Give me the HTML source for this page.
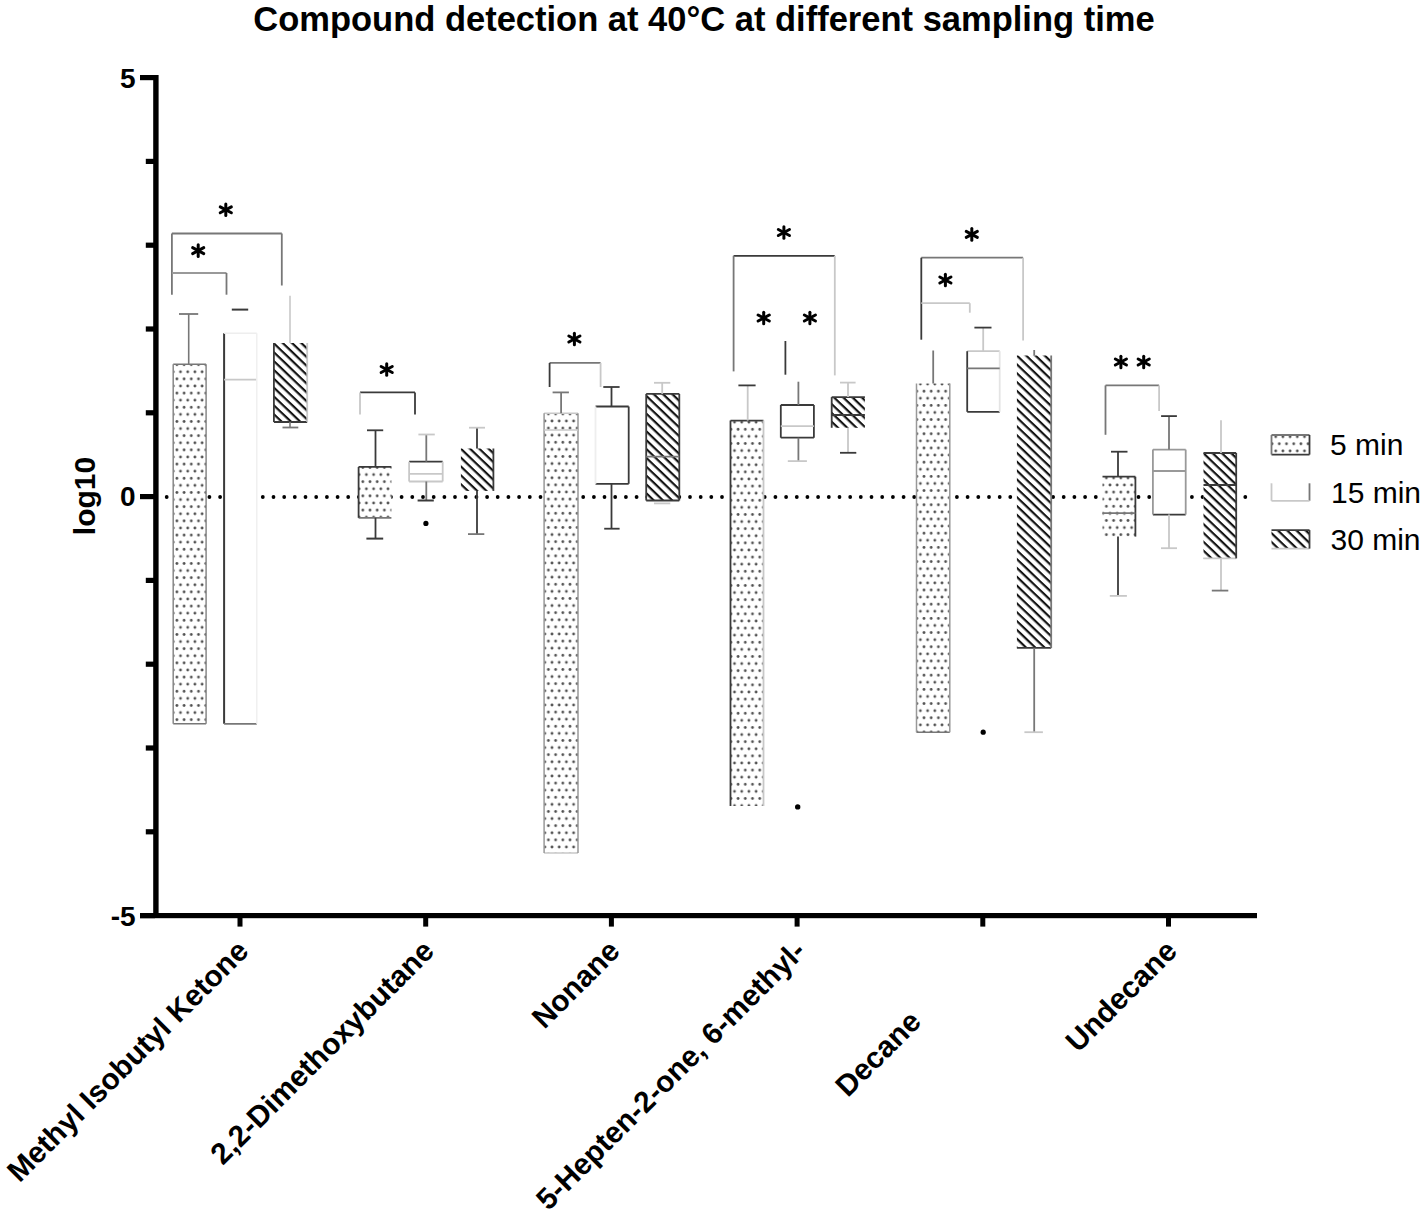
<!DOCTYPE html><html><head><meta charset="utf-8"><style>
html,body{margin:0;padding:0;background:#fff;}
svg{display:block;}
text{font-family:"Liberation Sans",sans-serif;}
</style></head><body>
<svg width="1425" height="1215" viewBox="0 0 1425 1215">
<defs><pattern id="h_mik" patternUnits="userSpaceOnUse" width="6.4" height="6.4" patternTransform="translate(0,0.48) rotate(43.7)"><rect x="-1" y="0" width="8.4" height="2.2" fill="#141414"/></pattern><pattern id="h_dmb" patternUnits="userSpaceOnUse" width="6.4" height="6.4" patternTransform="translate(0,6.85) rotate(43.7)"><rect x="-1" y="0" width="8.4" height="2.2" fill="#141414"/></pattern><pattern id="h_non" patternUnits="userSpaceOnUse" width="6.4" height="6.4" patternTransform="translate(0,6.92) rotate(43.7)"><rect x="-1" y="0" width="8.4" height="2.2" fill="#141414"/></pattern><pattern id="h_hep" patternUnits="userSpaceOnUse" width="6.4" height="6.4" patternTransform="translate(0,6.15) rotate(43.7)"><rect x="-1" y="0" width="8.4" height="2.2" fill="#141414"/></pattern><pattern id="h_dec" patternUnits="userSpaceOnUse" width="6.4" height="6.4" patternTransform="translate(0,1.94) rotate(43.7)"><rect x="-1" y="0" width="8.4" height="2.2" fill="#141414"/></pattern><pattern id="h_und" patternUnits="userSpaceOnUse" width="6.4" height="6.4" patternTransform="translate(0,1.04) rotate(43.7)"><rect x="-1" y="0" width="8.4" height="2.2" fill="#141414"/></pattern><pattern id="h_leg" patternUnits="userSpaceOnUse" width="6.4" height="6.4" patternTransform="translate(0,7.10) rotate(43.7)"><rect x="-1" y="0" width="8.4" height="2.2" fill="#141414"/></pattern><pattern id="d_mik" patternUnits="userSpaceOnUse" width="7.2" height="14.2" x="180.5" y="371.8"><circle cx="0" cy="0" r="1.4" fill="#505050"/><circle cx="7.2" cy="0" r="1.4" fill="#505050"/><circle cx="0" cy="14.2" r="1.4" fill="#505050"/><circle cx="7.2" cy="14.2" r="1.4" fill="#505050"/><circle cx="3.6" cy="7.1" r="1.4" fill="#505050"/></pattern><pattern id="d_dmb" patternUnits="userSpaceOnUse" width="7.2" height="14.2" x="366.4" y="474.6"><circle cx="0" cy="0" r="1.4" fill="#505050"/><circle cx="7.2" cy="0" r="1.4" fill="#505050"/><circle cx="0" cy="14.2" r="1.4" fill="#505050"/><circle cx="7.2" cy="14.2" r="1.4" fill="#505050"/><circle cx="3.6" cy="7.1" r="1.4" fill="#505050"/></pattern><pattern id="d_non" patternUnits="userSpaceOnUse" width="7.2" height="14.2" x="544.8" y="563.0"><circle cx="0" cy="0" r="1.4" fill="#505050"/><circle cx="7.2" cy="0" r="1.4" fill="#505050"/><circle cx="0" cy="14.2" r="1.4" fill="#505050"/><circle cx="7.2" cy="14.2" r="1.4" fill="#505050"/><circle cx="3.6" cy="7.1" r="1.4" fill="#505050"/></pattern><pattern id="d_hep" patternUnits="userSpaceOnUse" width="7.2" height="14.2" x="734.5" y="706.2"><circle cx="0" cy="0" r="1.4" fill="#505050"/><circle cx="7.2" cy="0" r="1.4" fill="#505050"/><circle cx="0" cy="14.2" r="1.4" fill="#505050"/><circle cx="7.2" cy="14.2" r="1.4" fill="#505050"/><circle cx="3.6" cy="7.1" r="1.4" fill="#505050"/></pattern><pattern id="d_dec" patternUnits="userSpaceOnUse" width="7.2" height="14.2" x="920.4" y="625.5"><circle cx="0" cy="0" r="1.4" fill="#505050"/><circle cx="7.2" cy="0" r="1.4" fill="#505050"/><circle cx="0" cy="14.2" r="1.4" fill="#505050"/><circle cx="7.2" cy="14.2" r="1.4" fill="#505050"/><circle cx="3.6" cy="7.1" r="1.4" fill="#505050"/></pattern><pattern id="d_und" patternUnits="userSpaceOnUse" width="7.2" height="14.2" x="1102.8" y="485.0"><circle cx="0" cy="0" r="1.4" fill="#505050"/><circle cx="7.2" cy="0" r="1.4" fill="#505050"/><circle cx="0" cy="14.2" r="1.4" fill="#505050"/><circle cx="7.2" cy="14.2" r="1.4" fill="#505050"/><circle cx="3.6" cy="7.1" r="1.4" fill="#505050"/></pattern><pattern id="d_leg" patternUnits="userSpaceOnUse" width="7.2" height="14.2" x="1275.7" y="436.7"><circle cx="0" cy="0" r="1.4" fill="#505050"/><circle cx="7.2" cy="0" r="1.4" fill="#505050"/><circle cx="0" cy="14.2" r="1.4" fill="#505050"/><circle cx="7.2" cy="14.2" r="1.4" fill="#505050"/><circle cx="3.6" cy="7.1" r="1.4" fill="#505050"/></pattern></defs>
<rect width="1425" height="1215" fill="#fff"/>

<text x="253.3" y="31" font-size="34.5" font-weight="bold" fill="#000">Compound detection at 40°C at different sampling time</text>
<rect x="153.2" y="75" width="5.4" height="843" fill="#000"/>
<rect x="140" y="913.0" width="15" height="5.2" fill="#000"/>
<rect x="145.8" y="829.2" width="9" height="5.2" fill="#000"/>
<rect x="145.8" y="745.4" width="9" height="5.2" fill="#000"/>
<rect x="145.8" y="661.6" width="9" height="5.2" fill="#000"/>
<rect x="145.8" y="577.8" width="9" height="5.2" fill="#000"/>
<rect x="140" y="494.0" width="15" height="5.2" fill="#000"/>
<rect x="145.8" y="410.2" width="9" height="5.2" fill="#000"/>
<rect x="145.8" y="326.4" width="9" height="5.2" fill="#000"/>
<rect x="145.8" y="242.6" width="9" height="5.2" fill="#000"/>
<rect x="145.8" y="158.8" width="9" height="5.2" fill="#000"/>
<rect x="140" y="75.0" width="15" height="5.2" fill="#000"/>
<text x="135.6" y="87.5" font-size="28" font-weight="bold" text-anchor="end">5</text>
<text x="135.6" y="505.5" font-size="28" font-weight="bold" text-anchor="end">0</text>
<text x="135.6" y="925.5" font-size="28" font-weight="bold" text-anchor="end">-5</text>
<text x="0" y="0" font-size="30" font-weight="bold" text-anchor="middle" transform="translate(95,496) rotate(-90)">log10</text>
<rect x="140" y="913" width="1117" height="5.2" fill="#000"/>
<rect x="237.5" y="915" width="5" height="11.6" fill="#000"/>
<rect x="423.2" y="915" width="5" height="11.6" fill="#000"/>
<rect x="608.9" y="915" width="5" height="11.6" fill="#000"/>
<rect x="794.6" y="915" width="5" height="11.6" fill="#000"/>
<rect x="980.3" y="915" width="5" height="11.6" fill="#000"/>
<rect x="1166.0" y="915" width="5" height="11.6" fill="#000"/>
<circle cx="166.7" cy="497.0" r="1.9" fill="#000"/>
<circle cx="177.4" cy="497.0" r="1.9" fill="#000"/>
<circle cx="188.1" cy="497.0" r="1.9" fill="#000"/>
<circle cx="198.7" cy="497.0" r="1.9" fill="#000"/>
<circle cx="209.4" cy="497.0" r="1.9" fill="#000"/>
<circle cx="220.1" cy="497.0" r="1.9" fill="#000"/>
<circle cx="230.8" cy="497.0" r="1.9" fill="#000"/>
<circle cx="241.5" cy="497.0" r="1.9" fill="#000"/>
<circle cx="252.1" cy="497.0" r="1.9" fill="#000"/>
<circle cx="262.8" cy="497.0" r="1.9" fill="#000"/>
<circle cx="273.5" cy="497.0" r="1.9" fill="#000"/>
<circle cx="284.2" cy="497.0" r="1.9" fill="#000"/>
<circle cx="294.8" cy="497.0" r="1.9" fill="#000"/>
<circle cx="305.5" cy="497.0" r="1.9" fill="#000"/>
<circle cx="316.2" cy="497.0" r="1.9" fill="#000"/>
<circle cx="326.9" cy="497.0" r="1.9" fill="#000"/>
<circle cx="337.6" cy="497.0" r="1.9" fill="#000"/>
<circle cx="348.2" cy="497.0" r="1.9" fill="#000"/>
<circle cx="358.9" cy="497.0" r="1.9" fill="#000"/>
<circle cx="369.6" cy="497.0" r="1.9" fill="#000"/>
<circle cx="380.3" cy="497.0" r="1.9" fill="#000"/>
<circle cx="391.0" cy="497.0" r="1.9" fill="#000"/>
<circle cx="401.6" cy="497.0" r="1.9" fill="#000"/>
<circle cx="412.3" cy="497.0" r="1.9" fill="#000"/>
<circle cx="423.0" cy="497.0" r="1.9" fill="#000"/>
<circle cx="433.7" cy="497.0" r="1.9" fill="#000"/>
<circle cx="444.4" cy="497.0" r="1.9" fill="#000"/>
<circle cx="455.0" cy="497.0" r="1.9" fill="#000"/>
<circle cx="465.7" cy="497.0" r="1.9" fill="#000"/>
<circle cx="476.4" cy="497.0" r="1.9" fill="#000"/>
<circle cx="487.1" cy="497.0" r="1.9" fill="#000"/>
<circle cx="497.7" cy="497.0" r="1.9" fill="#000"/>
<circle cx="508.4" cy="497.0" r="1.9" fill="#000"/>
<circle cx="519.1" cy="497.0" r="1.9" fill="#000"/>
<circle cx="529.8" cy="497.0" r="1.9" fill="#000"/>
<circle cx="540.5" cy="497.0" r="1.9" fill="#000"/>
<circle cx="551.1" cy="497.0" r="1.9" fill="#000"/>
<circle cx="561.8" cy="497.0" r="1.9" fill="#000"/>
<circle cx="572.5" cy="497.0" r="1.9" fill="#000"/>
<circle cx="583.2" cy="497.0" r="1.9" fill="#000"/>
<circle cx="593.9" cy="497.0" r="1.9" fill="#000"/>
<circle cx="604.5" cy="497.0" r="1.9" fill="#000"/>
<circle cx="615.2" cy="497.0" r="1.9" fill="#000"/>
<circle cx="625.9" cy="497.0" r="1.9" fill="#000"/>
<circle cx="636.6" cy="497.0" r="1.9" fill="#000"/>
<circle cx="647.3" cy="497.0" r="1.9" fill="#000"/>
<circle cx="657.9" cy="497.0" r="1.9" fill="#000"/>
<circle cx="668.6" cy="497.0" r="1.9" fill="#000"/>
<circle cx="679.3" cy="497.0" r="1.9" fill="#000"/>
<circle cx="690.0" cy="497.0" r="1.9" fill="#000"/>
<circle cx="700.7" cy="497.0" r="1.9" fill="#000"/>
<circle cx="711.3" cy="497.0" r="1.9" fill="#000"/>
<circle cx="722.0" cy="497.0" r="1.9" fill="#000"/>
<circle cx="732.7" cy="497.0" r="1.9" fill="#000"/>
<circle cx="743.4" cy="497.0" r="1.9" fill="#000"/>
<circle cx="754.0" cy="497.0" r="1.9" fill="#000"/>
<circle cx="764.7" cy="497.0" r="1.9" fill="#000"/>
<circle cx="775.4" cy="497.0" r="1.9" fill="#000"/>
<circle cx="786.1" cy="497.0" r="1.9" fill="#000"/>
<circle cx="796.8" cy="497.0" r="1.9" fill="#000"/>
<circle cx="807.4" cy="497.0" r="1.9" fill="#000"/>
<circle cx="818.1" cy="497.0" r="1.9" fill="#000"/>
<circle cx="828.8" cy="497.0" r="1.9" fill="#000"/>
<circle cx="839.5" cy="497.0" r="1.9" fill="#000"/>
<circle cx="850.2" cy="497.0" r="1.9" fill="#000"/>
<circle cx="860.8" cy="497.0" r="1.9" fill="#000"/>
<circle cx="871.5" cy="497.0" r="1.9" fill="#000"/>
<circle cx="882.2" cy="497.0" r="1.9" fill="#000"/>
<circle cx="892.9" cy="497.0" r="1.9" fill="#000"/>
<circle cx="903.6" cy="497.0" r="1.9" fill="#000"/>
<circle cx="914.2" cy="497.0" r="1.9" fill="#000"/>
<circle cx="924.9" cy="497.0" r="1.9" fill="#000"/>
<circle cx="935.6" cy="497.0" r="1.9" fill="#000"/>
<circle cx="946.3" cy="497.0" r="1.9" fill="#000"/>
<circle cx="956.9" cy="497.0" r="1.9" fill="#000"/>
<circle cx="967.6" cy="497.0" r="1.9" fill="#000"/>
<circle cx="978.3" cy="497.0" r="1.9" fill="#000"/>
<circle cx="989.0" cy="497.0" r="1.9" fill="#000"/>
<circle cx="999.7" cy="497.0" r="1.9" fill="#000"/>
<circle cx="1010.3" cy="497.0" r="1.9" fill="#000"/>
<circle cx="1021.0" cy="497.0" r="1.9" fill="#000"/>
<circle cx="1031.7" cy="497.0" r="1.9" fill="#000"/>
<circle cx="1042.4" cy="497.0" r="1.9" fill="#000"/>
<circle cx="1053.1" cy="497.0" r="1.9" fill="#000"/>
<circle cx="1063.7" cy="497.0" r="1.9" fill="#000"/>
<circle cx="1074.4" cy="497.0" r="1.9" fill="#000"/>
<circle cx="1085.1" cy="497.0" r="1.9" fill="#000"/>
<circle cx="1095.8" cy="497.0" r="1.9" fill="#000"/>
<circle cx="1106.5" cy="497.0" r="1.9" fill="#000"/>
<circle cx="1117.1" cy="497.0" r="1.9" fill="#000"/>
<circle cx="1127.8" cy="497.0" r="1.9" fill="#000"/>
<circle cx="1138.5" cy="497.0" r="1.9" fill="#000"/>
<circle cx="1149.2" cy="497.0" r="1.9" fill="#000"/>
<circle cx="1159.8" cy="497.0" r="1.9" fill="#000"/>
<circle cx="1170.5" cy="497.0" r="1.9" fill="#000"/>
<circle cx="1181.2" cy="497.0" r="1.9" fill="#000"/>
<circle cx="1191.9" cy="497.0" r="1.9" fill="#000"/>
<circle cx="1202.6" cy="497.0" r="1.9" fill="#000"/>
<circle cx="1213.2" cy="497.0" r="1.9" fill="#000"/>
<circle cx="1223.9" cy="497.0" r="1.9" fill="#000"/>
<circle cx="1234.6" cy="497.0" r="1.9" fill="#000"/>
<circle cx="1245.3" cy="497.0" r="1.9" fill="#000"/>
<rect x="173.2" y="364.3" width="32.9" height="359.5" fill="#fff"/>
<rect x="173.2" y="364.3" width="32.9" height="359.5" fill="url(#d_mik)"/>
<line x1="173.2" y1="364.3" x2="206.1" y2="364.3" stroke="#777" stroke-width="1.5"/>
<line x1="173.2" y1="723.8" x2="206.1" y2="723.8" stroke="#777" stroke-width="1.5"/>
<line x1="173.2" y1="364.3" x2="173.2" y2="723.8" stroke="#888" stroke-width="1.5"/>
<line x1="206.1" y1="364.3" x2="206.1" y2="723.8" stroke="#888" stroke-width="1.5"/>
<line x1="188.7" y1="314.0" x2="188.7" y2="364.3" stroke="#777" stroke-width="1.6"/>
<line x1="179.0" y1="314.0" x2="198.2" y2="314.0" stroke="#777" stroke-width="1.8"/>
<rect x="224.1" y="333.3" width="32.7" height="390.5" fill="#fff"/>
<line x1="224.1" y1="333.3" x2="224.1" y2="723.8" stroke="#3a3a3a" stroke-width="2"/>
<line x1="224.1" y1="723.8" x2="256.8" y2="723.8" stroke="#777" stroke-width="1.8"/>
<line x1="224.1" y1="379.7" x2="256.8" y2="379.7" stroke="#c8c8c8" stroke-width="1.8"/>
<line x1="224.1" y1="333.3" x2="256.8" y2="333.3" stroke="#eee" stroke-width="1.5"/>
<line x1="256.8" y1="333.3" x2="256.8" y2="723.8" stroke="#f0f0f0" stroke-width="1.5"/>
<line x1="231.8" y1="309.6" x2="248.2" y2="309.6" stroke="#3a3a3a" stroke-width="2"/>
<rect x="273.9" y="343.0" width="33.3" height="79.0" fill="#fff"/>
<rect x="273.9" y="343.0" width="33.3" height="79.0" fill="url(#h_mik)"/>
<line x1="273.9" y1="422.0" x2="307.2" y2="422.0" stroke="#3a3a3a" stroke-width="1.8"/>
<line x1="273.9" y1="343.0" x2="273.9" y2="422.0" stroke="#3a3a3a" stroke-width="1.8"/>
<line x1="307.2" y1="343.0" x2="307.2" y2="422.0" stroke="#c8c8c8" stroke-width="1.8"/>
<line x1="290.0" y1="295.8" x2="290.0" y2="343.0" stroke="#c8c8c8" stroke-width="1.6"/>
<line x1="290.0" y1="422.0" x2="290.0" y2="427.5" stroke="#777" stroke-width="1.6"/>
<line x1="282.5" y1="427.5" x2="298.3" y2="427.5" stroke="#777" stroke-width="1.8"/>
<line x1="171.9" y1="233.5" x2="281.8" y2="233.5" stroke="#777" stroke-width="1.8"/>
<line x1="171.9" y1="233.5" x2="171.9" y2="294.7" stroke="#777" stroke-width="1.8"/>
<line x1="281.8" y1="233.5" x2="281.8" y2="285.5" stroke="#777" stroke-width="1.8"/>
<line x1="171.9" y1="273.0" x2="226.5" y2="273.0" stroke="#999" stroke-width="1.8"/>
<line x1="226.5" y1="273.0" x2="226.5" y2="294.7" stroke="#777" stroke-width="1.8"/>
<line x1="225.80" y1="204.00" x2="225.80" y2="215.60" stroke="#000" stroke-width="3.0" stroke-linecap="round"/>
<line x1="220.24" y1="206.84" x2="231.36" y2="212.76" stroke="#000" stroke-width="3.0" stroke-linecap="round"/>
<line x1="220.24" y1="212.76" x2="231.36" y2="206.84" stroke="#000" stroke-width="3.0" stroke-linecap="round"/>
<line x1="198.20" y1="244.80" x2="198.20" y2="256.40" stroke="#000" stroke-width="3.0" stroke-linecap="round"/>
<line x1="192.64" y1="247.64" x2="203.76" y2="253.56" stroke="#000" stroke-width="3.0" stroke-linecap="round"/>
<line x1="192.64" y1="253.56" x2="203.76" y2="247.64" stroke="#000" stroke-width="3.0" stroke-linecap="round"/>
<rect x="358.6" y="466.9" width="32.8" height="50.9" fill="#fff"/>
<rect x="358.6" y="466.9" width="32.8" height="50.9" fill="url(#d_dmb)"/>
<line x1="358.6" y1="466.9" x2="391.4" y2="466.9" stroke="#3a3a3a" stroke-width="1.8"/>
<line x1="358.6" y1="517.8" x2="391.4" y2="517.8" stroke="#777" stroke-width="1.8"/>
<line x1="358.6" y1="466.9" x2="358.6" y2="517.8" stroke="#3a3a3a" stroke-width="1.8"/>
<line x1="375.5" y1="430.3" x2="375.5" y2="466.9" stroke="#3a3a3a" stroke-width="1.8"/>
<line x1="367.0" y1="430.3" x2="383.2" y2="430.3" stroke="#3a3a3a" stroke-width="1.8"/>
<line x1="375.5" y1="517.8" x2="375.5" y2="538.6" stroke="#3a3a3a" stroke-width="1.8"/>
<line x1="366.4" y1="538.6" x2="383.2" y2="538.6" stroke="#3a3a3a" stroke-width="2"/>
<rect x="409.1" y="461.7" width="33.6" height="19.8" fill="#fff"/>
<line x1="409.1" y1="461.7" x2="442.7" y2="461.7" stroke="#3a3a3a" stroke-width="1.8"/>
<line x1="409.1" y1="481.5" x2="442.7" y2="481.5" stroke="#c8c8c8" stroke-width="1.8"/>
<line x1="409.1" y1="461.7" x2="409.1" y2="481.5" stroke="#c8c8c8" stroke-width="1.8"/>
<line x1="442.7" y1="461.7" x2="442.7" y2="481.5" stroke="#c8c8c8" stroke-width="1.8"/>
<line x1="409.1" y1="473.8" x2="442.7" y2="473.8" stroke="#c8c8c8" stroke-width="1.8"/>
<line x1="426.3" y1="434.5" x2="426.3" y2="461.7" stroke="#777" stroke-width="1.8"/>
<line x1="418.4" y1="434.5" x2="434.8" y2="434.5" stroke="#c8c8c8" stroke-width="1.8"/>
<line x1="426.3" y1="481.5" x2="426.3" y2="500.5" stroke="#777" stroke-width="1.8"/>
<line x1="417.6" y1="500.5" x2="433.8" y2="500.5" stroke="#3a3a3a" stroke-width="2"/>
<circle cx="425.9" cy="523.4" r="2.6" fill="#000"/>
<rect x="460.9" y="448.5" width="32.5" height="42.4" fill="#fff"/>
<rect x="460.9" y="448.5" width="32.5" height="42.4" fill="url(#h_dmb)"/>
<line x1="493.4" y1="448.5" x2="493.4" y2="490.9" stroke="#3a3a3a" stroke-width="1.8"/>
<line x1="477.0" y1="427.7" x2="477.0" y2="448.5" stroke="#3a3a3a" stroke-width="1.8"/>
<line x1="469.0" y1="427.7" x2="485.0" y2="427.7" stroke="#c8c8c8" stroke-width="1.8"/>
<line x1="477.0" y1="490.9" x2="477.0" y2="534.1" stroke="#3a3a3a" stroke-width="1.8"/>
<line x1="468.0" y1="534.1" x2="484.3" y2="534.1" stroke="#777" stroke-width="1.8"/>
<line x1="360.0" y1="392.4" x2="415.0" y2="392.4" stroke="#3a3a3a" stroke-width="1.8"/>
<line x1="360.0" y1="392.4" x2="360.0" y2="414.5" stroke="#c8c8c8" stroke-width="1.8"/>
<line x1="415.0" y1="392.4" x2="415.0" y2="414.5" stroke="#3a3a3a" stroke-width="1.8"/>
<line x1="386.70" y1="363.70" x2="386.70" y2="375.30" stroke="#000" stroke-width="3.0" stroke-linecap="round"/>
<line x1="381.14" y1="366.54" x2="392.26" y2="372.46" stroke="#000" stroke-width="3.0" stroke-linecap="round"/>
<line x1="381.14" y1="372.46" x2="392.26" y2="366.54" stroke="#000" stroke-width="3.0" stroke-linecap="round"/>
<rect x="544.1" y="413.2" width="33.9" height="439.8" fill="#fff"/>
<rect x="544.1" y="413.2" width="33.9" height="439.8" fill="url(#d_non)"/>
<line x1="544.1" y1="413.2" x2="578.0" y2="413.2" stroke="#c8c8c8" stroke-width="1.5"/>
<line x1="544.1" y1="853.0" x2="578.0" y2="853.0" stroke="#c8c8c8" stroke-width="1.5"/>
<line x1="544.1" y1="413.2" x2="544.1" y2="853.0" stroke="#999" stroke-width="1.5"/>
<line x1="578.0" y1="413.2" x2="578.0" y2="853.0" stroke="#999" stroke-width="1.5"/>
<line x1="544.1" y1="430.0" x2="578.0" y2="430.0" stroke="#c8c8c8" stroke-width="1.5"/>
<line x1="561.1" y1="392.4" x2="561.1" y2="413.2" stroke="#777" stroke-width="1.8"/>
<line x1="552.6" y1="392.4" x2="568.9" y2="392.4" stroke="#777" stroke-width="1.8"/>
<rect x="595.5" y="406.5" width="33.2" height="77.3" fill="#fff"/>
<line x1="595.5" y1="406.5" x2="628.7" y2="406.5" stroke="#3a3a3a" stroke-width="1.8"/>
<line x1="595.5" y1="483.8" x2="628.7" y2="483.8" stroke="#3a3a3a" stroke-width="1.8"/>
<line x1="595.5" y1="406.5" x2="595.5" y2="483.8" stroke="#eee" stroke-width="1.8"/>
<line x1="628.7" y1="406.5" x2="628.7" y2="483.8" stroke="#3a3a3a" stroke-width="1.8"/>
<line x1="611.5" y1="387.0" x2="611.5" y2="406.5" stroke="#3a3a3a" stroke-width="1.8"/>
<line x1="603.3" y1="387.0" x2="619.6" y2="387.0" stroke="#3a3a3a" stroke-width="1.8"/>
<line x1="611.5" y1="483.8" x2="611.5" y2="528.7" stroke="#3a3a3a" stroke-width="1.8"/>
<line x1="604.2" y1="528.7" x2="619.6" y2="528.7" stroke="#3a3a3a" stroke-width="1.8"/>
<rect x="646.2" y="393.9" width="33.1" height="106.6" fill="#fff"/>
<rect x="646.2" y="393.9" width="33.1" height="106.6" fill="url(#h_non)"/>
<line x1="646.2" y1="393.9" x2="679.3" y2="393.9" stroke="#3a3a3a" stroke-width="1.8"/>
<line x1="646.2" y1="500.5" x2="679.3" y2="500.5" stroke="#3a3a3a" stroke-width="1.8"/>
<line x1="646.2" y1="393.9" x2="646.2" y2="500.5" stroke="#3a3a3a" stroke-width="1.8"/>
<line x1="679.3" y1="393.9" x2="679.3" y2="500.5" stroke="#3a3a3a" stroke-width="1.8"/>
<line x1="646.2" y1="456.7" x2="679.3" y2="456.7" stroke="#777" stroke-width="1.8"/>
<line x1="662.2" y1="382.8" x2="662.2" y2="393.9" stroke="#c8c8c8" stroke-width="1.8"/>
<line x1="654.0" y1="382.8" x2="670.3" y2="382.8" stroke="#c8c8c8" stroke-width="1.8"/>
<line x1="654.0" y1="503.4" x2="670.3" y2="503.4" stroke="#c8c8c8" stroke-width="1.8"/>
<line x1="549.6" y1="362.9" x2="600.6" y2="362.9" stroke="#777" stroke-width="1.8"/>
<line x1="549.6" y1="362.9" x2="549.6" y2="387.0" stroke="#3a3a3a" stroke-width="1.8"/>
<line x1="600.6" y1="362.9" x2="600.6" y2="387.0" stroke="#c8c8c8" stroke-width="1.8"/>
<line x1="574.40" y1="333.20" x2="574.40" y2="344.80" stroke="#000" stroke-width="3.0" stroke-linecap="round"/>
<line x1="568.84" y1="336.04" x2="579.96" y2="341.96" stroke="#000" stroke-width="3.0" stroke-linecap="round"/>
<line x1="568.84" y1="341.96" x2="579.96" y2="336.04" stroke="#000" stroke-width="3.0" stroke-linecap="round"/>
<rect x="730.5" y="420.6" width="33.0" height="385.4" fill="#fff"/>
<rect x="730.5" y="420.6" width="33.0" height="385.4" fill="url(#d_hep)"/>
<line x1="730.5" y1="420.6" x2="763.5" y2="420.6" stroke="#3a3a3a" stroke-width="1.8"/>
<line x1="730.5" y1="420.6" x2="730.5" y2="806.0" stroke="#3a3a3a" stroke-width="1.8"/>
<line x1="763.5" y1="420.6" x2="763.5" y2="806.0" stroke="#c8c8c8" stroke-width="1.8"/>
<line x1="747.7" y1="385.4" x2="747.7" y2="420.6" stroke="#c8c8c8" stroke-width="1.8"/>
<line x1="738.4" y1="385.4" x2="755.6" y2="385.4" stroke="#3a3a3a" stroke-width="1.8"/>
<rect x="780.8" y="405.0" width="33.1" height="32.7" fill="#fff"/>
<line x1="780.8" y1="405.0" x2="813.9" y2="405.0" stroke="#3a3a3a" stroke-width="1.8"/>
<line x1="780.8" y1="437.7" x2="813.9" y2="437.7" stroke="#3a3a3a" stroke-width="1.8"/>
<line x1="780.8" y1="405.0" x2="780.8" y2="437.7" stroke="#3a3a3a" stroke-width="1.8"/>
<line x1="813.9" y1="405.0" x2="813.9" y2="437.7" stroke="#3a3a3a" stroke-width="1.8"/>
<line x1="780.8" y1="426.2" x2="813.9" y2="426.2" stroke="#c8c8c8" stroke-width="1.8"/>
<line x1="798.4" y1="381.7" x2="798.4" y2="405.0" stroke="#777" stroke-width="1.8"/>
<line x1="798.4" y1="437.7" x2="798.4" y2="461.1" stroke="#777" stroke-width="1.8"/>
<line x1="787.8" y1="461.1" x2="806.9" y2="461.1" stroke="#c8c8c8" stroke-width="1.8"/>
<rect x="831.7" y="397.1" width="33.2" height="30.7" fill="#fff"/>
<rect x="831.7" y="397.1" width="33.2" height="30.7" fill="url(#h_hep)"/>
<line x1="831.7" y1="397.1" x2="864.9" y2="397.1" stroke="#3a3a3a" stroke-width="1.8"/>
<line x1="831.7" y1="397.1" x2="831.7" y2="427.8" stroke="#3a3a3a" stroke-width="1.8"/>
<line x1="831.7" y1="415.0" x2="864.9" y2="415.0" stroke="#3a3a3a" stroke-width="1.8"/>
<line x1="848.0" y1="382.6" x2="848.0" y2="397.1" stroke="#c8c8c8" stroke-width="1.8"/>
<line x1="840.0" y1="382.6" x2="855.6" y2="382.6" stroke="#c8c8c8" stroke-width="1.8"/>
<line x1="848.0" y1="427.8" x2="848.0" y2="452.8" stroke="#c8c8c8" stroke-width="1.8"/>
<line x1="840.0" y1="452.8" x2="856.3" y2="452.8" stroke="#3a3a3a" stroke-width="1.8"/>
<circle cx="797.7" cy="806.9" r="2.7" fill="#000"/>
<line x1="733.6" y1="255.8" x2="834.8" y2="255.8" stroke="#3a3a3a" stroke-width="1.8"/>
<line x1="733.6" y1="255.8" x2="733.6" y2="371.4" stroke="#777" stroke-width="1.8"/>
<line x1="834.8" y1="255.8" x2="834.8" y2="375.4" stroke="#c8c8c8" stroke-width="1.8"/>
<line x1="785.4" y1="341.0" x2="785.4" y2="374.7" stroke="#3a3a3a" stroke-width="1.8"/>
<line x1="783.90" y1="226.70" x2="783.90" y2="238.30" stroke="#000" stroke-width="3.0" stroke-linecap="round"/>
<line x1="778.34" y1="229.54" x2="789.46" y2="235.46" stroke="#000" stroke-width="3.0" stroke-linecap="round"/>
<line x1="778.34" y1="235.46" x2="789.46" y2="229.54" stroke="#000" stroke-width="3.0" stroke-linecap="round"/>
<line x1="763.70" y1="312.20" x2="763.70" y2="323.80" stroke="#000" stroke-width="3.0" stroke-linecap="round"/>
<line x1="758.14" y1="315.04" x2="769.26" y2="320.96" stroke="#000" stroke-width="3.0" stroke-linecap="round"/>
<line x1="758.14" y1="320.96" x2="769.26" y2="315.04" stroke="#000" stroke-width="3.0" stroke-linecap="round"/>
<line x1="809.90" y1="312.20" x2="809.90" y2="323.80" stroke="#000" stroke-width="3.0" stroke-linecap="round"/>
<line x1="804.34" y1="315.04" x2="815.46" y2="320.96" stroke="#000" stroke-width="3.0" stroke-linecap="round"/>
<line x1="804.34" y1="320.96" x2="815.46" y2="315.04" stroke="#000" stroke-width="3.0" stroke-linecap="round"/>
<rect x="916.5" y="383.5" width="33.3" height="348.7" fill="#fff"/>
<rect x="916.5" y="383.5" width="33.3" height="348.7" fill="url(#d_dec)"/>
<line x1="916.5" y1="732.2" x2="949.8" y2="732.2" stroke="#777" stroke-width="1.5"/>
<line x1="916.5" y1="383.5" x2="916.5" y2="732.2" stroke="#999" stroke-width="1.5"/>
<line x1="949.8" y1="383.5" x2="949.8" y2="732.2" stroke="#999" stroke-width="1.5"/>
<line x1="933.2" y1="350.5" x2="933.2" y2="383.5" stroke="#777" stroke-width="1.8"/>
<rect x="967.2" y="351.2" width="32.5" height="60.6" fill="#fff"/>
<line x1="967.2" y1="351.2" x2="999.7" y2="351.2" stroke="#c8c8c8" stroke-width="1.8"/>
<line x1="967.2" y1="411.8" x2="999.7" y2="411.8" stroke="#3a3a3a" stroke-width="1.8"/>
<line x1="967.2" y1="351.2" x2="967.2" y2="411.8" stroke="#3a3a3a" stroke-width="1.8"/>
<line x1="999.7" y1="351.2" x2="999.7" y2="411.8" stroke="#e4e4e4" stroke-width="1.8"/>
<line x1="967.2" y1="368.3" x2="999.7" y2="368.3" stroke="#777" stroke-width="1.8"/>
<line x1="983.2" y1="327.6" x2="983.2" y2="351.2" stroke="#c8c8c8" stroke-width="1.8"/>
<line x1="974.4" y1="327.6" x2="991.5" y2="327.6" stroke="#3a3a3a" stroke-width="1.8"/>
<rect x="1016.9" y="355.5" width="34.3" height="292.4" fill="#fff"/>
<rect x="1016.9" y="355.5" width="34.3" height="292.4" fill="url(#h_dec)"/>
<line x1="1016.9" y1="647.9" x2="1051.2" y2="647.9" stroke="#3a3a3a" stroke-width="1.8"/>
<line x1="1051.2" y1="355.5" x2="1051.2" y2="647.9" stroke="#777" stroke-width="1.8"/>
<line x1="1034.2" y1="350.0" x2="1034.2" y2="355.5" stroke="#777" stroke-width="1.8"/>
<line x1="1034.2" y1="647.9" x2="1034.2" y2="732.2" stroke="#777" stroke-width="1.8"/>
<line x1="1024.4" y1="732.2" x2="1042.9" y2="732.2" stroke="#c8c8c8" stroke-width="1.8"/>
<circle cx="983.2" cy="732.2" r="2.6" fill="#000"/>
<line x1="921.3" y1="257.7" x2="1023.1" y2="257.7" stroke="#777" stroke-width="1.8"/>
<line x1="921.3" y1="257.7" x2="921.3" y2="339.7" stroke="#3a3a3a" stroke-width="1.8"/>
<line x1="1023.1" y1="257.7" x2="1023.1" y2="340.4" stroke="#c8c8c8" stroke-width="1.8"/>
<line x1="921.3" y1="303.2" x2="969.8" y2="303.2" stroke="#c8c8c8" stroke-width="1.8"/>
<line x1="969.8" y1="303.2" x2="969.8" y2="312.7" stroke="#c8c8c8" stroke-width="1.8"/>
<line x1="971.80" y1="228.60" x2="971.80" y2="240.20" stroke="#000" stroke-width="3.0" stroke-linecap="round"/>
<line x1="966.24" y1="231.44" x2="977.36" y2="237.36" stroke="#000" stroke-width="3.0" stroke-linecap="round"/>
<line x1="966.24" y1="237.36" x2="977.36" y2="231.44" stroke="#000" stroke-width="3.0" stroke-linecap="round"/>
<line x1="945.40" y1="274.20" x2="945.40" y2="285.80" stroke="#000" stroke-width="3.0" stroke-linecap="round"/>
<line x1="939.84" y1="277.04" x2="950.96" y2="282.96" stroke="#000" stroke-width="3.0" stroke-linecap="round"/>
<line x1="939.84" y1="282.96" x2="950.96" y2="277.04" stroke="#000" stroke-width="3.0" stroke-linecap="round"/>
<rect x="1102.5" y="476.7" width="32.9" height="59.9" fill="#fff"/>
<rect x="1102.5" y="476.7" width="32.9" height="59.9" fill="url(#d_und)"/>
<line x1="1102.5" y1="476.7" x2="1135.4" y2="476.7" stroke="#3a3a3a" stroke-width="1.8"/>
<line x1="1135.4" y1="476.7" x2="1135.4" y2="536.6" stroke="#3a3a3a" stroke-width="1.8"/>
<line x1="1102.5" y1="513.2" x2="1135.4" y2="513.2" stroke="#777" stroke-width="1.8"/>
<line x1="1118.0" y1="451.7" x2="1118.0" y2="476.7" stroke="#3a3a3a" stroke-width="1.8"/>
<line x1="1111.0" y1="451.7" x2="1127.5" y2="451.7" stroke="#3a3a3a" stroke-width="1.8"/>
<line x1="1118.0" y1="536.6" x2="1118.0" y2="595.9" stroke="#3a3a3a" stroke-width="1.8"/>
<line x1="1109.8" y1="595.9" x2="1126.9" y2="595.9" stroke="#c8c8c8" stroke-width="1.8"/>
<rect x="1152.9" y="449.6" width="32.8" height="65.0" fill="#fff"/>
<line x1="1152.9" y1="449.6" x2="1185.7" y2="449.6" stroke="#999" stroke-width="1.8"/>
<line x1="1152.9" y1="514.6" x2="1185.7" y2="514.6" stroke="#3a3a3a" stroke-width="1.8"/>
<line x1="1152.9" y1="449.6" x2="1152.9" y2="514.6" stroke="#999" stroke-width="1.8"/>
<line x1="1185.7" y1="449.6" x2="1185.7" y2="514.6" stroke="#999" stroke-width="1.8"/>
<line x1="1152.9" y1="471.0" x2="1185.7" y2="471.0" stroke="#999" stroke-width="1.8"/>
<line x1="1169.0" y1="416.1" x2="1169.0" y2="449.6" stroke="#777" stroke-width="1.8"/>
<line x1="1161.1" y1="416.1" x2="1176.9" y2="416.1" stroke="#3a3a3a" stroke-width="1.8"/>
<line x1="1169.0" y1="514.6" x2="1169.0" y2="548.2" stroke="#c8c8c8" stroke-width="1.8"/>
<line x1="1161.0" y1="548.2" x2="1177.0" y2="548.2" stroke="#c8c8c8" stroke-width="1.8"/>
<rect x="1203.5" y="453.0" width="32.7" height="105.4" fill="#fff"/>
<rect x="1203.5" y="453.0" width="32.7" height="105.4" fill="url(#h_und)"/>
<line x1="1203.5" y1="453.0" x2="1236.2" y2="453.0" stroke="#3a3a3a" stroke-width="1.8"/>
<line x1="1203.5" y1="558.4" x2="1236.2" y2="558.4" stroke="#c8c8c8" stroke-width="1.8"/>
<line x1="1236.2" y1="453.0" x2="1236.2" y2="558.4" stroke="#3a3a3a" stroke-width="1.8"/>
<line x1="1203.5" y1="485.0" x2="1236.2" y2="485.0" stroke="#3a3a3a" stroke-width="1.8"/>
<line x1="1221.0" y1="420.3" x2="1221.0" y2="453.0" stroke="#c8c8c8" stroke-width="1.8"/>
<line x1="1221.0" y1="558.4" x2="1221.0" y2="590.6" stroke="#c8c8c8" stroke-width="1.8"/>
<line x1="1211.8" y1="590.6" x2="1228.3" y2="590.6" stroke="#777" stroke-width="1.8"/>
<line x1="1105.5" y1="385.4" x2="1159.1" y2="385.4" stroke="#777" stroke-width="1.8"/>
<line x1="1105.5" y1="385.4" x2="1105.5" y2="434.8" stroke="#777" stroke-width="1.8"/>
<line x1="1159.1" y1="385.4" x2="1159.1" y2="411.0" stroke="#c8c8c8" stroke-width="1.8"/>
<line x1="1120.90" y1="356.20" x2="1120.90" y2="367.80" stroke="#000" stroke-width="3.0" stroke-linecap="round"/>
<line x1="1115.34" y1="359.04" x2="1126.46" y2="364.96" stroke="#000" stroke-width="3.0" stroke-linecap="round"/>
<line x1="1115.34" y1="364.96" x2="1126.46" y2="359.04" stroke="#000" stroke-width="3.0" stroke-linecap="round"/>
<line x1="1143.70" y1="356.20" x2="1143.70" y2="367.80" stroke="#000" stroke-width="3.0" stroke-linecap="round"/>
<line x1="1138.14" y1="359.04" x2="1149.26" y2="364.96" stroke="#000" stroke-width="3.0" stroke-linecap="round"/>
<line x1="1138.14" y1="364.96" x2="1149.26" y2="359.04" stroke="#000" stroke-width="3.0" stroke-linecap="round"/>
<rect x="1271.5" y="435.0" width="38.0" height="19.6" fill="#fff"/>
<rect x="1271.5" y="435.0" width="38.0" height="19.6" fill="url(#d_leg)"/>
<line x1="1271.5" y1="435.0" x2="1309.5" y2="435.0" stroke="#777" stroke-width="1.8"/>
<line x1="1271.5" y1="454.6" x2="1309.5" y2="454.6" stroke="#3a3a3a" stroke-width="1.8"/>
<line x1="1271.5" y1="435.0" x2="1271.5" y2="454.6" stroke="#777" stroke-width="1.8"/>
<line x1="1309.5" y1="435.0" x2="1309.5" y2="454.6" stroke="#3a3a3a" stroke-width="1.8"/>
<line x1="1271.5" y1="483.3" x2="1271.5" y2="500.8" stroke="#c8c8c8" stroke-width="1.8"/>
<line x1="1309.5" y1="483.3" x2="1309.5" y2="500.8" stroke="#777" stroke-width="1.8"/>
<line x1="1271.5" y1="500.8" x2="1309.5" y2="500.8" stroke="#c8c8c8" stroke-width="1.8"/>
<rect x="1271.5" y="530.1" width="38.0" height="18.5" fill="#fff"/>
<rect x="1271.5" y="530.1" width="38.0" height="18.5" fill="url(#h_leg)"/>
<line x1="1271.5" y1="530.1" x2="1309.5" y2="530.1" stroke="#3a3a3a" stroke-width="1.8"/>
<line x1="1271.5" y1="548.6" x2="1309.5" y2="548.6" stroke="#c8c8c8" stroke-width="1.8"/>
<line x1="1309.5" y1="530.1" x2="1309.5" y2="548.6" stroke="#3a3a3a" stroke-width="1.8"/>
<text x="1330" y="454.6" font-size="30" fill="#000">5 min</text>
<text x="1331" y="503" font-size="30" fill="#000">15 min</text>
<text x="1330.5" y="550" font-size="30" fill="#000">30 min</text>
<text x="0" y="0" font-size="29.8" font-weight="bold" text-anchor="end" transform="translate(246.8,946.0) rotate(-45) translate(-2.5,7.2)">Methyl Isobutyl Ketone</text>
<text x="0" y="0" font-size="29.8" font-weight="bold" text-anchor="end" transform="translate(432.5,946.0) rotate(-45) translate(-2.5,7.2)">2,2-Dimethoxybutane</text>
<text x="0" y="0" font-size="29.8" font-weight="bold" text-anchor="end" transform="translate(618.2,946.0) rotate(-45) translate(-2.5,7.2)">Nonane</text>
<text x="0" y="0" font-size="29.8" font-weight="bold" text-anchor="end" transform="translate(803.9,946.0) rotate(-45) translate(-2.5,7.2)">5-Hepten-2-one, 6-methyl-</text>
<text x="0" y="0" font-size="29.8" font-weight="bold" text-anchor="end" transform="translate(919.5,1016.5) rotate(-45) translate(-2.5,7.2)">Decane</text>
<text x="0" y="0" font-size="29.8" font-weight="bold" text-anchor="end" transform="translate(1175.3,946.0) rotate(-45) translate(-2.5,7.2)">Undecane</text>
</svg></body></html>
